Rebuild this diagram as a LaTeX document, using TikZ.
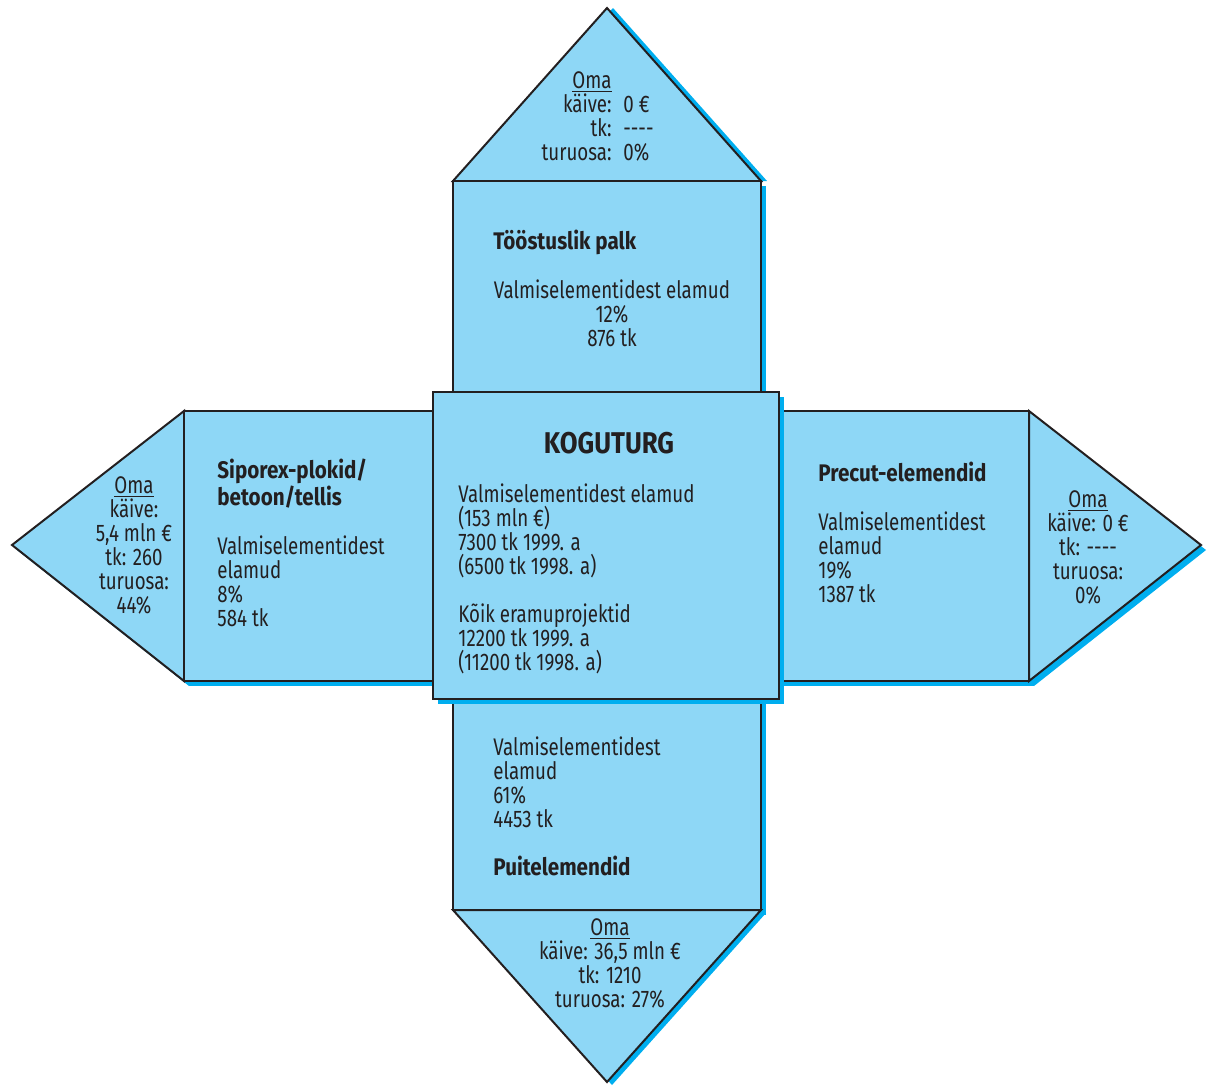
\documentclass[tikz,border=0pt]{standalone}
\usepackage{fontspec}
\setmainfont{Fira Sans}[FakeStretch=0.78,BoldFeatures={FakeStretch=0.86}]
\definecolor{panelblue}{RGB}{142,215,246}
\definecolor{shadowblue}{RGB}{0,174,239}
\definecolor{outline}{RGB}{35,31,32}
\newcommand{\nodashes}{-\kern0pt-\kern0pt-\kern0pt-}

\begin{document}
\begin{tikzpicture}[x=0.5pt,y=-0.5pt,
    panel/.style={fill=panelblue,draw=outline,line width=1pt,line join=miter},
    drop/.style={fill=shadowblue,xshift=2.5pt,yshift=-2.5pt},
    txt/.style={inner sep=0pt,text=outline,font=\fontsize{12}{12}\selectfont},
    head/.style={txt,font=\fontsize{12}{12}\selectfont\bfseries},
    title/.style={txt,font=\fontsize{15}{15}\selectfont\bfseries}]
  \useasboundingbox (0,0) rectangle (1213,1087);

  % top arm
  \fill[drop,xshift=0.5pt,yshift=2.5pt] (453,181) -- (607,8) -- (761,181) -- cycle;
  \filldraw[panel] (453,181) -- (607,8) -- (761,181) -- cycle;
  \fill[drop] (453,181) rectangle (761,392);
  \filldraw[panel] (453,181) rectangle (761,392);

  % bottom arm
  \fill[drop] (453,699) rectangle (761,910);
  \filldraw[panel] (453,699) rectangle (761,910);
  \fill[drop,yshift=1pt] (453,910) -- (607,1082) -- (761,910) -- cycle;
  \filldraw[panel] (453,910) -- (607,1082) -- (761,910) -- cycle;

  % left arm
  \fill[drop] (184,411) -- (12,545) -- (184,681) -- cycle;
  \filldraw[panel] (184,411) -- (12,545) -- (184,681) -- cycle;
  \fill[drop] (184,411) rectangle (433,681);
  \filldraw[panel] (184,411) rectangle (433,681);

  % right arm
  \fill[drop] (779,411) rectangle (1029,681);
  \filldraw[panel] (779,411) rectangle (1029,681);
  \fill[drop] (1029,411) -- (1201,545) -- (1029,681) -- cycle;
  \filldraw[panel] (1029,411) -- (1201,545) -- (1029,681) -- cycle;

  % centre
  \fill[drop] (433,392) rectangle (779,699);
  \filldraw[panel] (433,392) rectangle (779,699);

  % multi-line nodes sit on the baseline of their last line
  \node[txt,anchor=base east,align=right] (topKeys) at (612,160)
    {\underline{Oma}\\käive:\\tk:\\turuosa:};
  \node[txt,anchor=base west,align=left] (topVals) at (623,160)
    {0 €\\\nodashes\\0\%};
  \node[head,anchor=base west] (topHead) at (493,249) {Tööstuslik palk};
  \node[txt,anchor=base,align=center] (topBody) at (612,346)
    {Valmiselementidest elamud\\12\%\\876 tk};

  \node[title,anchor=base] (midHead) at (609,453) {KOGUTURG};
  \node[txt,anchor=base west,align=left] (midBody) at (458,670)
    {Valmiselementidest elamud\\(153 mln €)\\7300 tk 1999. a\\(6500 tk 1998. a)\\[12pt]
     Kõik eramuprojektid\\12200 tk 1999. a\\(11200 tk 1998. a)};

  \node[head,anchor=base west,align=left] (leftHead) at (217,505)
    {Siporex-plokid/\\betoon/tellis};
  \node[txt,anchor=base west,align=left] (leftBody) at (217,626)
    {Valmiselementidest\\elamud\\8\%\\584 tk};
  \node[txt,anchor=base,align=center] (leftOwn) at (134,613)
    {\underline{Oma}\\käive:\\5,4 mln €\\tk: 260\\turuosa:\\44\%};

  \node[head,anchor=base west] (rightHead) at (818,481) {Precut-elemendid};
  \node[txt,anchor=base west,align=left] (rightBody) at (818,602)
    {Valmiselementidest\\elamud\\19\%\\1387 tk};
  \node[txt,anchor=base,align=center] (rightOwn) at (1088,603)
    {\underline{Oma}\\käive: 0 €\\tk: \nodashes\\turuosa:\\0\%};

  \node[txt,anchor=base west,align=left] (botBody) at (493,827)
    {Valmiselementidest\\elamud\\61\%\\4453 tk};
  \node[head,anchor=base west] (botHead) at (493,875) {Puitelemendid};
  \node[txt,anchor=base,align=center] (botOwn) at (610,1007)
    {\underline{Oma}\\käive: 36,5 mln €\\tk: 1210\\turuosa: 27\%};
\end{tikzpicture}
\end{document}
